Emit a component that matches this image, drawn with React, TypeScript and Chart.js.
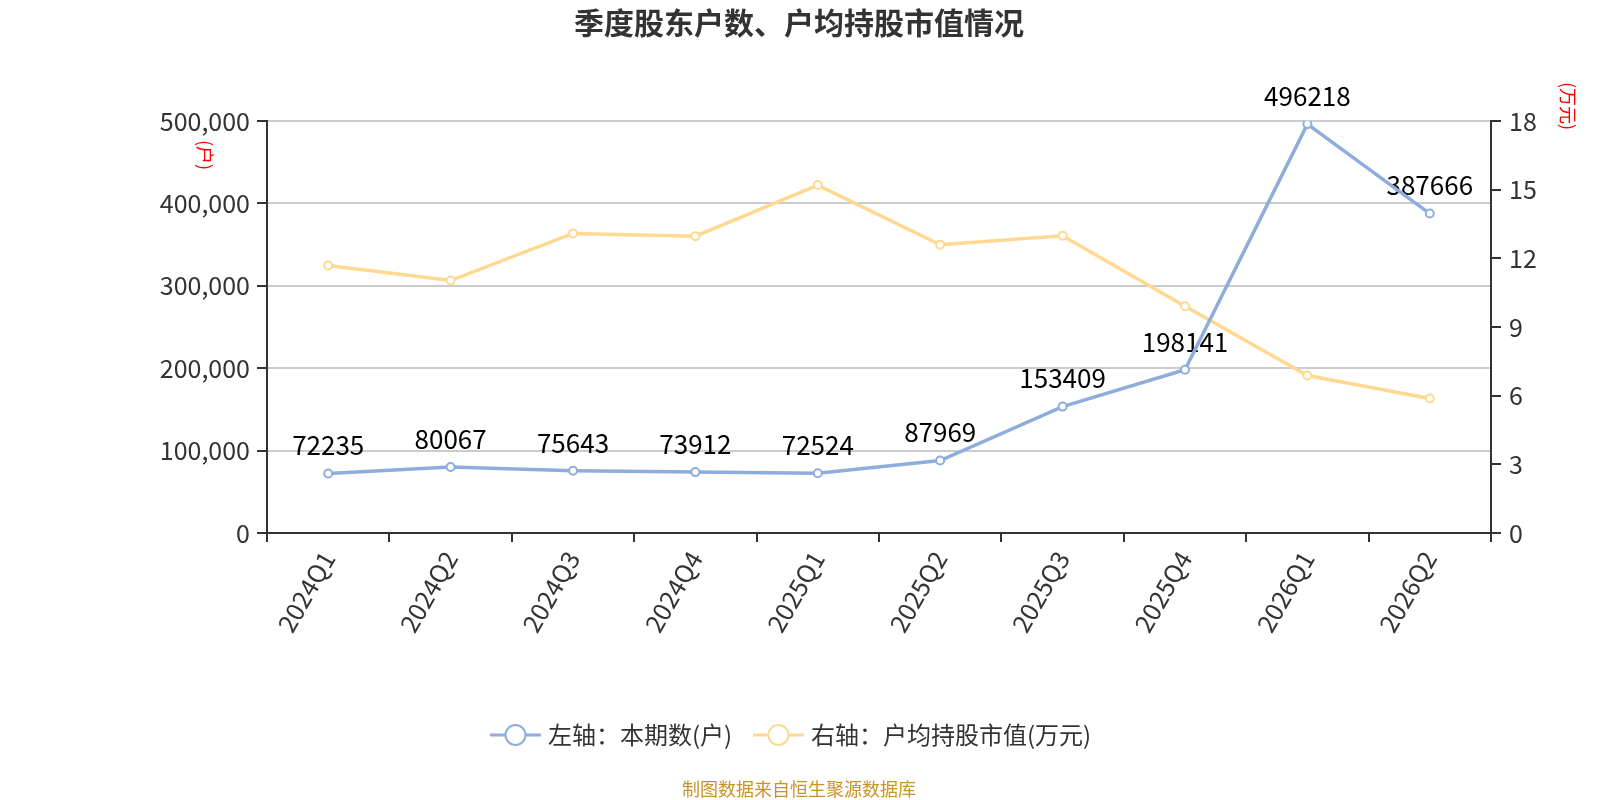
import React, { useEffect, useRef } from 'react';
import Chart from 'chart.js/auto';

const quarters = ['2024Q1', '2024Q2', '2024Q3', '2024Q4', '2025Q1', '2025Q2', '2025Q3', '2025Q4', '2026Q1', '2026Q2'];
const holders = [72235, 80067, 75643, 73912, 72524, 87969, 153409, 198141, 496218, 387666];
const avgValue = [11.69, 11.03, 13.09, 12.97, 15.2, 12.59, 12.99, 9.91, 6.88, 5.88];

const BLUE = '#8eaddc';
const ORANGE = '#ffd991';
const FONT = '"Noto Sans CJK SC", "Noto Sans", sans-serif';
const TITLE = '季度股东户数、户均持股市值情况';
const LEGEND_LEFT = '左轴：本期数(户)';
const LEGEND_RIGHT = '右轴：户均持股市值(万元)';
const FOOTER = '制图数据来自恒生聚源数据库';

const decorations = {
  id: 'decorations',
  beforeDatasetsDraw(chart) {
    const { ctx } = chart;
    const meta = chart.getDatasetMeta(0);
    ctx.save();
    ctx.font = `26px ${FONT}`;
    ctx.fillStyle = '#000';
    ctx.textAlign = 'center';
    ctx.textBaseline = 'middle';
    meta.data.forEach((pt, i) => {
      ctx.fillText(String(holders[i]), pt.x, pt.y - 28);
    });
    ctx.restore();
  },
  afterDraw(chart) {
    const { ctx } = chart;
    ctx.save();
    // title
    ctx.font = `bold 30px ${FONT}`;
    ctx.fillStyle = '#333';
    ctx.textAlign = 'center';
    ctx.textBaseline = 'middle';
    ctx.fillText(TITLE, 799, 23);

    // axis unit labels, rotated
    ctx.font = `18px ${FONT}`;
    ctx.fillStyle = '#ff0000';
    const vText = (text, x, y) => {
      ctx.save();
      ctx.translate(x, y);
      ctx.rotate(Math.PI / 2);
      ctx.textAlign = 'center';
      ctx.textBaseline = 'middle';
      ctx.fillText(text, 0, 0);
      ctx.restore();
    };
    vText('(户)', 205, 155);
    vText('(万元)', 1568, 106);

    // legend
    const item = (x, color, text) => {
      const y = 735;
      ctx.strokeStyle = color;
      ctx.lineWidth = 3;
      ctx.beginPath();
      ctx.moveTo(x, y);
      ctx.lineTo(x + 51, y);
      ctx.stroke();
      ctx.beginPath();
      ctx.arc(x + 25.5, y, 10, 0, Math.PI * 2);
      ctx.fillStyle = '#fff';
      ctx.fill();
      ctx.lineWidth = 2;
      ctx.stroke();
      ctx.font = `24px ${FONT}`;
      ctx.fillStyle = '#333';
      ctx.textAlign = 'left';
      ctx.textBaseline = 'middle';
      ctx.fillText(text, x + 58, y);
    };
    item(490, BLUE, LEGEND_LEFT);
    item(753, ORANGE, LEGEND_RIGHT);

    // footer
    ctx.font = `18px ${FONT}`;
    ctx.fillStyle = '#c9932a';
    ctx.textAlign = 'center';
    ctx.textBaseline = 'middle';
    ctx.fillText(FOOTER, 799, 789);
    ctx.restore();
  },
};

const App = () => {
  const chartRef = useRef(null);

  useEffect(() => {
    if (!chartRef.current) return;
    const myChart = new Chart(chartRef.current, {
      type: 'line',
      data: {
        labels: quarters,
        datasets: [
          {
            label: LEGEND_LEFT,
            data: holders,
            yAxisID: 'y',
            borderColor: BLUE,
            backgroundColor: '#fff',
            borderWidth: 3.5,
            pointRadius: 4,
            pointBorderWidth: 2,
            pointBackgroundColor: '#fff',
            pointBorderColor: BLUE,
            order: 1,
          },
          {
            label: LEGEND_RIGHT,
            data: avgValue,
            yAxisID: 'y1',
            borderColor: ORANGE,
            backgroundColor: '#fff',
            borderWidth: 3.5,
            pointRadius: 4,
            pointBorderWidth: 2,
            pointBackgroundColor: '#fff',
            pointBorderColor: ORANGE,
            order: 2,
          },
        ],
      },
      options: {
        animation: false,
        responsive: false,
        layout: { padding: { top: 121, left: 0, right: 0, bottom: 0 } },
        plugins: {
          legend: { display: false },
          title: { display: false },
          tooltip: { enabled: false },
        },
        scales: {
          x: {
            offset: true,
            grid: {
              offset: true,
              drawOnChartArea: false,
              drawTicks: true,
              tickLength: 9,
              tickColor: '#333',
              lineWidth: 2,
            },
            border: { color: '#333', width: 2 },
            ticks: {
              color: '#333',
              font: { size: 25, family: FONT },
              minRotation: 60,
              maxRotation: 60,
              padding: 4,
            },
            afterFit: (s) => {
              s.height = 267;
            },
          },
          y: {
            position: 'left',
            min: 0,
            max: 500000,
            grid: {
              color: '#cccccc',
              lineWidth: 2,
              tickLength: 10,
              tickColor: '#333',
            },
            border: { color: '#333', width: 2 },
            ticks: {
              stepSize: 100000,
              color: '#333',
              padding: 7,
              font: { size: 25, family: FONT },
              callback: (v) => Number(v).toLocaleString('en-US'),
            },
            afterFit: (s) => {
              s.width = 267;
            },
          },
          y1: {
            position: 'right',
            min: 0,
            max: 18,
            grid: {
              drawOnChartArea: false,
              tickLength: 10,
              tickColor: '#333',
              lineWidth: 2,
            },
            border: { color: '#333', width: 2 },
            ticks: {
              stepSize: 3,
              color: '#333',
              padding: 8,
              font: { size: 25, family: FONT },
            },
            afterFit: (s) => {
              s.width = 109;
            },
          },
        },
      },
      plugins: [decorations],
    });

    return () => {
      myChart.destroy();
    };
  }, []);

  return (
    <div style={{ position: 'absolute', left: 0, top: 0, width: 1600, height: 800, background: '#fff' }}>
      <canvas ref={chartRef} width={1600} height={800} />
    </div>
  );
};

export default App;
